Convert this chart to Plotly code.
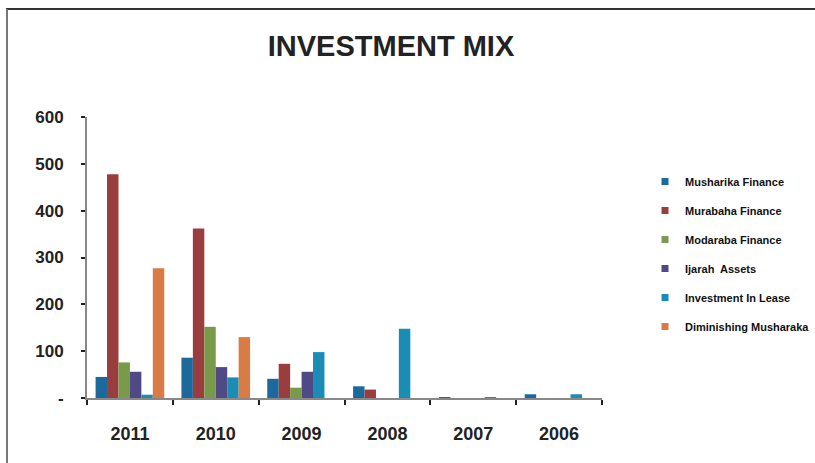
import plotly.graph_objects as go

years = ["2011", "2010", "2009", "2008", "2007", "2006"]
musharika = [45, 86, 41, 25, 2, 8]
murabaha = [478, 362, 73, 18, 0, 0]
modaraba = [76, 152, 22, 0, 0, 0]
ijarah = [56, 66, 56, 0, 0, 0]
lease = [7, 44, 98, 148, 2, 8]
diminishing = [277, 130, 0, 0, 0, 0]

series = [
    ("Musharika Finance", musharika, "#1c6a9c"),
    ("Murabaha Finance", murabaha, "#9a3d3f"),
    ("Modaraba Finance", modaraba, "#79994b"),
    ("Ijarah  Assets", ijarah, "#4f4a86"),
    ("Investment In Lease", lease, "#1b8db4"),
    ("Diminishing Musharaka", diminishing, "#d97b44"),
]

yticks = [0, 100, 200, 300, 400, 500, 600]
yticktext = ["-", "100", "200", "300", "400", "500", "600"]

FONT = "Liberation Sans, Arial, sans-serif"

fig = go.Figure()
for i, (name, vals, col) in enumerate(series):
    fig.add_trace(go.Bar(x=years, y=vals, name=name, marker_color=col,
                         marker_line_width=0, showlegend=False))
for i, (name, vals, col) in enumerate(series):
    fig.add_trace(go.Scatter(x=[None], y=[None], mode="markers", name="<b>" + name + "</b>",
                             marker=dict(symbol="square", size=7, color=col),
                             legendgroup=str(i), showlegend=True))

W, H = 815, 463
L, R, T, B = 87, 213, 117, 65
pw, ph = W - L - R, H - T - B

def px(x):
    return (x - L) / pw

def py(y):
    return (H - B - y) / ph

fig.update_layout(
    width=W, height=H,
    margin=dict(l=L, r=R, t=T, b=B, autoexpand=False),
    paper_bgcolor="white", plot_bgcolor="white",
    barmode="group", bargap=0.2, bargroupgap=0,
    title=dict(text="<b>INVESTMENT MIX</b>", x=391 / W, xanchor="center",
               y=1 - 46 / H, yanchor="middle",
               font=dict(family=FONT, size=29, color="#222")),
    legend=dict(xref="container", yref="container", x=645 / W, y=1 - 167 / H,
                xanchor="left", yanchor="top",
                font=dict(family=FONT, size=11, color="#111"),
                tracegroupgap=10, itemwidth=30, bgcolor="rgba(0,0,0,0)"),
    font=dict(family=FONT, color="#111"),
    showlegend=True,
    shapes=[
        dict(type="line", xref="paper", yref="paper", x0=px(6), x1=px(815),
             y0=py(9), y1=py(9), line=dict(color="#333", width=2)),
        dict(type="line", xref="paper", yref="paper", x0=px(7), x1=px(7),
             y0=py(9), y1=py(463), line=dict(color="#777", width=2)),
    ],
)

fig.update_xaxes(
    type="category", showline=True, linecolor="#888", linewidth=2,
    ticks="outside", tickson="boundaries", ticklen=5, tickcolor="#222", tickwidth=2,
    showgrid=False, ticklabelstandoff=18,
    tickfont=dict(family=FONT, size=18, color="#222"),
    tickprefix="<b>", ticksuffix="</b>",
)
fig.update_yaxes(
    range=[0, 600], tickvals=yticks, ticktext=["<b>" + t + "</b>" for t in yticktext],
    showline=True, linecolor="#888", linewidth=2,
    ticks="outside", ticklen=4, tickcolor="#222", tickwidth=2,
    showgrid=False, zeroline=False, ticklabelstandoff=14,
    tickfont=dict(family=FONT, size=17, color="#222"),
)

fig.write_html("out.html")
